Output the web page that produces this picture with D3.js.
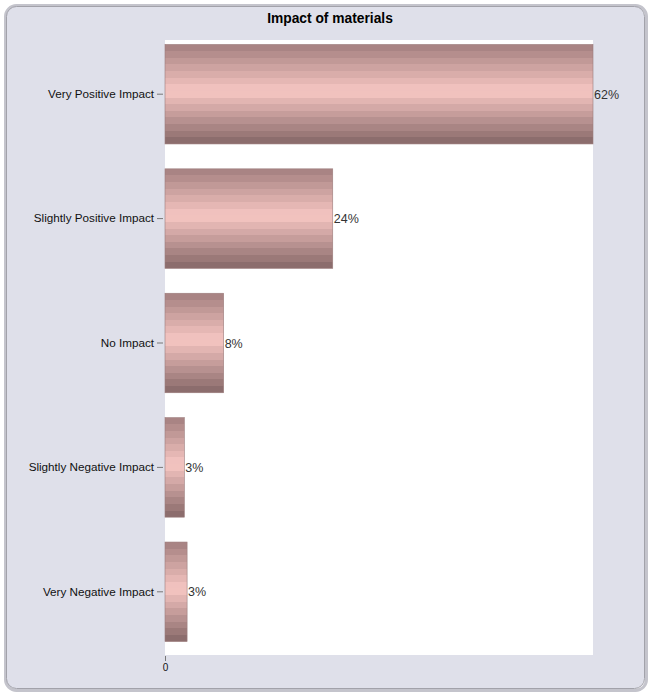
<!DOCTYPE html>
<html>
<head>
<meta charset="utf-8">
<script src="https://cdn.jsdelivr.net/npm/d3@7"></script>
<style>
  html, body { margin: 0; padding: 0; background: #ffffff; }
  svg { display: block; }
</style>
</head>
<body>
<svg id="chart" width="649" height="694"></svg>
<script>
// ---- data ----
const title = "Impact of materials";
const categories = ["Very Positive Impact", "Slightly Positive Impact", "No Impact", "Slightly Negative Impact", "Very Negative Impact"];
const values = [62, 24.3, 8.5, 2.8, 3.2];
const valueLabels = ["62%", "24%", "8%", "3%", "3%"];
const xTicks = [0];

// ---- layout ----
const W = 649, H = 694;
const plot = { left: 165, right: 593, top: 40, bottom: 655 };

const svg = d3.select("#chart");
const defs = svg.append("defs");

// striped bar gradient
const grad = defs.append("linearGradient")
  .attr("id", "barGrad").attr("x1", 0).attr("y1", 0).attr("x2", 0).attr("y2", 1);
const nStripes = 15;
const topC = "#a37f7f", midC = "#f7c7c3", botC = "#856767";
const peak = 0.47;
for (let i = 0; i < nStripes; i++) {
  const t = (i + 0.5) / nStripes;
  const c = t < peak ? d3.interpolateRgb(topC, midC)(t / peak)
                     : d3.interpolateRgb(midC, botC)((t - peak) / (1 - peak));
  grad.append("stop").attr("offset", i / nStripes).attr("stop-color", c);
  grad.append("stop").attr("offset", (i + 1) / nStripes).attr("stop-color", c);
}

// outer panel
svg.append("rect")
  .attr("x", 5.5).attr("y", 5.5).attr("width", 641).attr("height", 685)
  .attr("rx", 11).attr("ry", 11)
  .attr("fill", "none").attr("stroke", "#c4c4cc").attr("stroke-width", 3);
svg.append("rect")
  .attr("x", 6.5).attr("y", 6.5).attr("width", 638).attr("height", 682)
  .attr("rx", 10).attr("ry", 10)
  .attr("fill", "#dfe0ea").attr("stroke", "#a2a2aa").attr("stroke-width", 1);

// title
svg.append("text")
  .attr("x", 330).attr("y", 23)
  .attr("text-anchor", "middle")
  .attr("font-family", "Liberation Sans, Arial, sans-serif")
  .attr("font-weight", "bold").attr("font-size", 13.8)
  .attr("fill", "#000")
  .text(title);

// plot background
svg.append("rect")
  .attr("x", plot.left).attr("y", plot.top)
  .attr("width", plot.right - plot.left).attr("height", plot.bottom - plot.top)
  .attr("fill", "#ffffff");

// scales
const x = d3.scaleLinear().domain([0, d3.max(values)]).range([plot.left, plot.right]);
const y = d3.scaleBand().domain(categories).range([32, 654]).paddingInner(0.2).paddingOuter(0.1);

// bars
svg.append("g").selectAll("rect")
  .data(values)
  .join("rect")
  .attr("x", x(0))
  .attr("y", (d, i) => y(categories[i]))
  .attr("width", d => x(d) - x(0))
  .attr("height", y.bandwidth())
  .attr("fill", "url(#barGrad)")
  .attr("stroke", "#9c7c7c").attr("stroke-width", 0.6);

// value labels
svg.append("g").selectAll("text")
  .data(values)
  .join("text")
  .attr("x", d => x(d) + 1)
  .attr("y", (d, i) => y(categories[i]) + y.bandwidth() / 2 + 4.5)
  .attr("font-family", "Liberation Sans, Arial, sans-serif")
  .attr("font-size", 12.5)
  .attr("fill", "#333333")
  .text((d, i) => valueLabels[i]);

// y axis (ticks + labels, no domain line)
const yAxis = d3.axisLeft(y).tickSize(6).tickPadding(3);
const gy = svg.append("g").attr("transform", `translate(${plot.left - 2},0)`).call(yAxis);
gy.select(".domain").remove();
gy.selectAll(".tick line").attr("stroke", "#777");
gy.selectAll(".tick text")
  .attr("font-family", "Liberation Sans, Arial, sans-serif")
  .attr("font-size", 11.7).attr("fill", "#111");

// x axis
const xAxis = d3.axisBottom(x).tickValues(xTicks).tickSize(5).tickPadding(3).tickFormat(d3.format("d"));
const gx = svg.append("g").attr("transform", `translate(0,${plot.bottom + 1})`).call(xAxis);
gx.select(".domain").remove();
gx.selectAll(".tick line").attr("stroke", "#777");
gx.selectAll(".tick text")
  .attr("font-family", "Liberation Sans, Arial, sans-serif")
  .attr("font-size", 10).attr("fill", "#111");
</script>
</body>
</html>
